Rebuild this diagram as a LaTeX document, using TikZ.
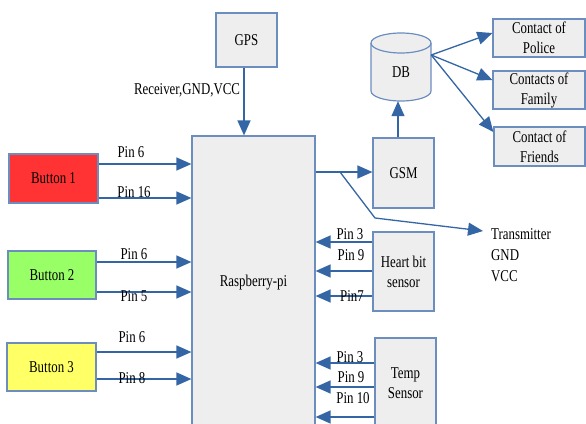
\documentclass[tikz,border=0pt]{standalone}
\usepackage{fontspec}
\setmainfont{Liberation Serif}[FakeStretch=0.78]
\usetikzlibrary{arrows.meta,calc}
\definecolor{ln}{HTML}{3465A4}
\definecolor{bd}{HTML}{6C8EBF}
\definecolor{bx}{HTML}{EEEEEE}
\definecolor{redb}{HTML}{FF3333}
\definecolor{greenb}{HTML}{99FF66}
\definecolor{yellowb}{HTML}{FFFF66}
\begin{document}
\begin{tikzpicture}[x=1pt,y=-1pt,
  font=\fontsize{16.5}{20}\selectfont,
  box/.style={draw=bd, line width=1.2pt, fill=bx, align=center, inner sep=0pt},
  cyl/.style={draw=bd, line width=1.2pt, fill=bx},
  arr/.style={draw=ln, line width=1.3pt, -{Triangle[length=15pt,width=13pt]}},
  lbl/.style={inner sep=0pt}]
\useasboundingbox (0,0) rectangle (586,423);
\begin{scope}
\clip (0,0) rectangle (586,423);
% boxes
\node[box, minimum width=61pt, minimum height=54pt] (gps) at (246.5,40) {GPS};
\node[box, minimum width=123pt, minimum height=294pt] (rp) at (253.5,283) {Raspberry-pi};
\node[box, fill=redb, minimum width=89pt, minimum height=49pt] (b1) at (53.5,178.5) {Button 1};
\node[box, fill=greenb, minimum width=88pt, minimum height=48pt] (b2) at (52,275) {Button 2};
\node[box, fill=yellowb, minimum width=89pt, minimum height=48pt] (b3) at (51.5,367) {Button 3};
\node[box, minimum width=61pt, minimum height=70pt] (gsm) at (403.5,173) {GSM};
\node[box, minimum width=61pt, minimum height=79pt] (heart) at (403.5,271.5) {Heart bit\\sensor};
\node[box, minimum width=61pt, minimum height=90pt] (temp) at (405.5,383) {Temp\\Sensor};
% database cylinder
\filldraw[cyl] (371,43) -- (371,91) arc[start angle=180, end angle=0, x radius=30, y radius=10]
  -- (431,43) arc[start angle=0, end angle=-180, x radius=30, y radius=10] -- cycle;
\draw[cyl, fill=none] (371,43) arc[start angle=180, end angle=0, x radius=30, y radius=10];
\node[inner sep=0pt, minimum width=60pt, minimum height=58pt] (db) at (401,72) {DB};
\node[box, minimum width=92pt, minimum height=38pt] (police) at (539,38) {Contact of\\Police};
\node[box, minimum width=92pt, minimum height=38pt] (family) at (539,90) {Contacts of\\Family};
\node[box, minimum width=91pt, minimum height=39pt] (friends) at (539.5,146.5) {Contact of\\Friends};
\node[lbl, anchor=west, align=left, font=\fontsize{16.5}{21}\selectfont] (tx) at (491,255) {Transmitter\\GND\\VCC};
% connectors
\draw[arr] (gps.south -| 244,0) -- (rp.north -| 244,0);
\node[lbl] (lgps) at (187,90) {Receiver,GND,VCC};
\draw[arr] (b1.east |- 0,164) -- (rp.west |- 0,164);
\draw[arr] (b1.east |- 0,198) -- (rp.west |- 0,198);
\draw[arr] (b2.east |- 0,262) -- (rp.west |- 0,262);
\draw[arr] (b2.east |- 0,292) -- (rp.west |- 0,292);
\draw[arr] (b3.east |- 0,352) -- (rp.west |- 0,352);
\draw[arr] (b3.east |- 0,379) -- (rp.west |- 0,379);
\node[lbl] (l1) at (131,152) {Pin 6};
\node[lbl] (l2) at (134,192) {Pin 16};
\node[lbl] (l3) at (134,254) {Pin 6};
\node[lbl] (l4) at (134,296) {Pin 5};
\node[lbl] (l5) at (132,337) {Pin 6};
\node[lbl] (l6) at (132,378) {Pin 8};
\draw[arr] (rp.east |- 0,172) -- (gsm.west |- 0,172);
\coordinate (br) at (340,172);
\coordinate (bend) at (375,218);
\coordinate (txa) at (483,231);
\draw[arr] (br) -- (bend) -- (txa);
\draw[arr] (gsm.north -| 398,0) -- (db.south -| 398,0);
\coordinate (dbo) at ($(db.east)+(0,-17)$);
\draw[arr] (dbo) -- (police.west |- 0,33);
\draw[arr] (dbo) -- (family.west |- 0,80);
\draw[arr] (dbo) -- (friends.west |- 0,132);
\draw[arr] (heart.west |- 0,242) -- (rp.east |- 0,242);
\draw[arr] (heart.west |- 0,271) -- (rp.east |- 0,271);
\draw[arr] (heart.west |- 0,296) -- (rp.east |- 0,296);
\node[lbl] (h1) at (350,234) {Pin 3};
\node[lbl] (h2) at (351,255) {Pin 9};
\node[lbl] (h3) at (352,296) {Pin7};
\draw[arr] (temp.west |- 0,363) -- (rp.east |- 0,363);
\draw[arr] (temp.west |- 0,387) -- (rp.east |- 0,387);
\draw[arr] (temp.west |- 0,417) -- (rp.east |- 0,417);
\node[lbl] (t1) at (350,357) {Pin 3};
\node[lbl] (t2) at (351,377) {Pin 9};
\node[lbl] (t3) at (353,398) {Pin 10};
\end{scope}
\end{tikzpicture}
\end{document}
